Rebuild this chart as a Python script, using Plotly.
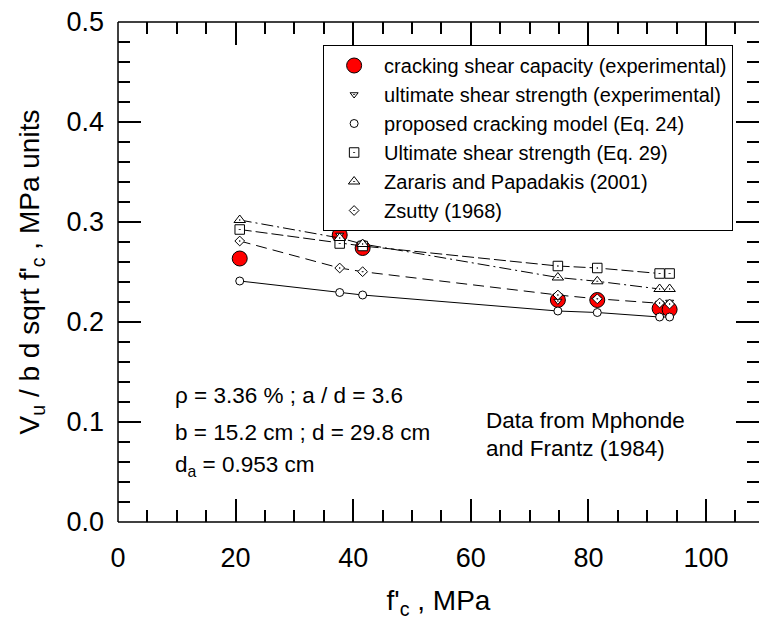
import plotly.graph_objects as go

# ---- data ----
fc = [20.7, 37.7, 41.6, 74.8, 81.5, 92.1, 93.8]                    # f'c, MPa
cracking_exp = [0.2635, 0.287, 0.274, 0.222, 0.222, 0.2135, 0.2125]  # red circles
ultimate_exp = [0.293, 0.287, 0.276, 0.221, 0.223, 0.219, 0.220]     # down triangles
proposed_eq24 = [0.241, 0.2295, 0.227, 0.211, 0.2095, 0.205, 0.205]  # open circles
ultimate_eq29 = [0.2925, 0.2785, 0.276, 0.256, 0.254, 0.2485, 0.2485]  # squares
zararis = [0.302, 0.284, 0.278, 0.2445, 0.2407, 0.233, 0.233]        # triangles
zsutty = [0.281, 0.254, 0.2503, 0.227, 0.2232, 0.219, 0.218]         # diamonds

x_ticks = [0, 20, 40, 60, 80, 100]
y_ticks = [0.0, 0.1, 0.2, 0.3, 0.4, 0.5]
y_tick_text = ["0.0", "0.1", "0.2", "0.3", "0.4", "0.5"]

FONT = "Liberation Sans, Arial, sans-serif"
fig = go.Figure()

def line_trace(y, dash):
    return go.Scatter(x=fc, y=y, mode="lines", showlegend=False, hoverinfo="skip",
                      line=dict(color="black", width=1, dash=dash))

def marker_trace(y, name, symbol, size, fill, rank):
    return go.Scatter(x=fc, y=y, mode="markers", name=name, legendrank=rank,
                      marker=dict(symbol=symbol, size=size, color=fill,
                                  line=dict(color="black", width=1)))

fig.add_trace(marker_trace(cracking_exp, "cracking shear capacity (experimental)",
                           "circle", 15, "#ff0000", 1))
fig.add_trace(marker_trace(ultimate_exp, "ultimate shear strength (experimental)",
                           "triangle-down-dot", 7, "white", 2))
fig.add_trace(line_trace(proposed_eq24, "solid"))
fig.add_trace(line_trace(ultimate_eq29, "12px,4px"))
fig.add_trace(line_trace(zararis, "12px,4px,2px,4px"))
fig.add_trace(line_trace(zsutty, "11px,6px"))
fig.add_trace(marker_trace(proposed_eq24, "proposed cracking model (Eq. 24)",
                           "circle", 8, "white", 3))
fig.add_trace(marker_trace(ultimate_eq29, "Ultimate shear strength (Eq. 29)",
                           "square-dot", 9.5, "white", 4))
fig.add_trace(marker_trace(zararis, "Zararis and Papadakis (2001)",
                           "triangle-up-dot", 10, "white", 5))
fig.add_trace(marker_trace(zsutty, "Zsutty (1968)",
                           "diamond-dot", 7.5, "white", 6))

ann_font = dict(family=FONT, size=22.5, color="black")
annotations = [
    dict(x=9.3, y=0.127, text="ρ = 3.36 % ; a / d = 3.6"),
    dict(x=9.3, y=0.090, text="b = 15.2 cm ; d = 29.8 cm"),
    dict(x=9.3, y=0.056, text="d<sub>a</sub> = 0.953 cm"),
    dict(x=62.2, y=0.102, text="Data from Mphonde"),
    dict(x=62.2, y=0.074, text="and Frantz (1984)"),
]
for a in annotations:
    fig.add_annotation(xref="x", yref="y", xanchor="left", yanchor="middle",
                       showarrow=False, font=ann_font, **a)

# frame lines (left, bottom, top); right edge lies beyond the picture
for x0, y0, x1, y1 in [(0, 0, 0, 1), (0, 0, 1, 0), (0, 1, 1, 1)]:
    fig.add_shape(type="line", xref="paper", yref="paper", x0=x0, y0=y0, x1=x1, y1=y1,
                  line=dict(color="black", width=1.5), layer="above")

axis_common = dict(showgrid=False, zeroline=False, showline=False, mirror="ticks",
                   ticks="inside", ticklen=23, tickwidth=1.5, tickcolor="black",
                   tickfont=dict(family=FONT, size=27, color="black"))

fig.update_xaxes(range=[0, 109.0], tickvals=x_ticks, ticktext=[str(v) for v in x_ticks],
                 ticklabelstandoff=17,
                 minor=dict(dtick=5, ticks="inside", ticklen=12, tickwidth=1.5,
                            tickcolor="black", showgrid=False),
                 title=dict(text="f'<sub>c</sub> , MPa", standoff=18,
                            font=dict(family=FONT, size=28, color="black")),
                 **axis_common)
fig.update_yaxes(range=[0, 0.5], tickvals=y_ticks, ticktext=y_tick_text,
                 ticklabelstandoff=13,
                 minor=dict(dtick=0.02, ticks="inside", ticklen=12, tickwidth=1.5,
                            tickcolor="black", showgrid=False),
                 title=dict(text="V<sub>u</sub> / b d sqrt f'<sub>c</sub> , MPa units",
                            standoff=18, font=dict(family=FONT, size=28, color="black")),
                 **axis_common)

fig.update_layout(
    width=759, height=621,
    margin=dict(l=118, r=0, t=22, b=99),
    paper_bgcolor="white", plot_bgcolor="white",
    showlegend=True,
    legend=dict(x=0.32, y=0.954, xanchor="left", yanchor="top",
                bgcolor="white", bordercolor="black", borderwidth=1,
                font=dict(family=FONT, size=20, color="black"),
                itemwidth=50, tracegroupgap=0),
    font=dict(family=FONT, color="black"),
)

fig.write_html("out.html")
